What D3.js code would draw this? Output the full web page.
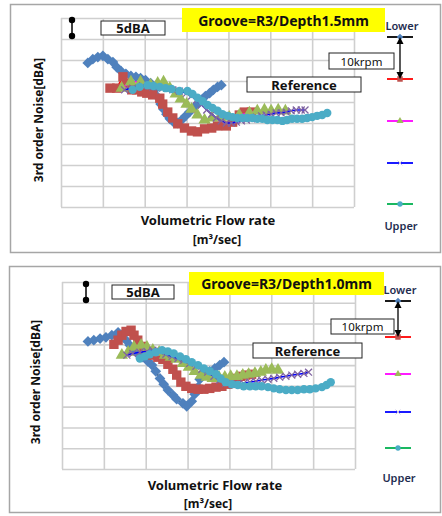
<!DOCTYPE html>
<html>
<head>
    <meta charset="utf-8"/>
    <title>3rd order noise</title>
    <script src="https://d3js.org/d3.v7.min.js"></script>
    <style>
        body { margin: 0; background: #fff; }
        text { font-family: "Noto Sans", "DejaVu Sans", sans-serif; }
    </style>
</head>
<body>
<div id="chart"></div>
<script>
// gridlines of the plot area (no tick labels are printed)
var flowGrid = [0, 1, 2, 3, 4, 5, 6, 7];
var noiseGrid = [0, 5, 10, 15, 20, 25, 30, 35, 40, 45];

// legend rows, top to bottom
var seriesNames = ["Lower", "2", "3", "4", "Upper"];

// ---- Groove=R3 / Depth 1.5mm : [flow, noise dBA] ----
var d15_lower = [[0.64,34.3],[0.76,35.2],[0.88,35.7],[1.0,36.0],[1.12,35.2],[1.24,34.5],[1.33,33.3],[1.43,32.4],[1.55,31.7],[1.67,31.2],[1.79,31.0],[1.90,30.7],[2.02,30.2],[2.14,29.5],[2.24,27.9],[2.31,26.2],[2.38,24.5],[2.45,23.3],[2.52,22.1],[2.60,21.0],[2.69,20.2],[2.79,20.0],[2.88,20.7],[2.98,21.7],[3.07,22.6],[3.17,23.6],[3.26,24.5],[3.36,25.5],[3.45,26.4],[3.55,27.1],[3.64,27.9],[3.74,28.6],[3.83,29.0]];
var d15_s2 = [[1.17,28.3],[1.33,28.3],[1.48,31.0],[1.57,29.5],[1.69,27.9],[1.81,27.9],[1.93,27.4],[2.05,27.1],[2.19,26.7],[2.36,25.9],[2.43,24.5],[2.55,22.6],[2.67,21.2],[2.79,19.8],[2.95,18.8],[3.12,18.1],[3.26,17.9],[3.43,18.6],[3.60,18.8],[3.74,19.3],[3.95,19.3],[4.10,20.2],[4.26,21.9],[4.38,22.6],[4.55,22.6]];
var d15_s3 = [[1.45,28.3],[1.67,29.8],[1.90,29.8],[2.14,29.0],[2.31,29.5],[2.45,29.8],[2.60,28.3],[2.74,26.9],[2.86,25.7],[3.0,24.5],[3.12,23.3],[3.26,21.9],[3.43,20.7],[3.60,21.2],[3.79,21.4],[4.02,21.4],[4.26,21.9],[4.5,22.4],[4.69,22.9],[4.86,23.1],[5.02,22.9],[5.19,23.1],[5.36,22.9]];
var d15_s4 = [[1.52,27.9],[1.71,28.3],[1.95,28.8],[2.19,28.6],[2.43,28.3],[2.67,27.9],[2.83,27.6],[3.0,27.1],[3.12,26.4],[3.24,25.5],[3.36,24.3],[3.48,23.1],[3.60,22.1],[3.71,21.2],[3.83,20.5],[3.95,20.0],[4.07,20.0],[4.19,20.2],[4.31,20.5],[4.43,20.7],[4.55,21.0],[4.67,21.4],[4.79,21.7],[4.90,21.9],[5.02,22.1],[5.14,22.4],[5.26,22.4],[5.38,22.6],[5.50,22.9],[5.62,23.1],[5.74,23.1],[5.83,23.1]];
var d15_upper = [[1.71,27.9],[1.88,28.6],[2.07,29.0],[2.21,28.8],[2.36,28.6],[2.50,28.3],[2.64,28.1],[2.83,27.6],[3.02,27.6],[3.14,26.9],[3.26,26.0],[3.38,25.2],[3.5,24.3],[3.62,23.6],[3.74,22.9],[3.86,22.1],[3.98,21.7],[4.10,21.4],[4.21,21.2],[4.33,21.2],[4.45,21.2],[4.57,21.2],[4.69,21.0],[4.81,21.0],[4.93,20.7],[5.05,20.7],[5.17,20.7],[5.29,20.5],[5.40,20.7],[5.52,21.0],[5.64,21.0],[5.76,21.0],[5.88,21.2],[6.0,21.4],[6.12,21.7],[6.24,21.9],[6.36,22.4]];

// ---- Groove=R3 / Depth 1.0mm : [flow, noise dBA] ----
var d10_lower = [[0.62,30.7],[0.76,31.0],[0.91,31.4],[1.05,31.7],[1.19,32.2],[1.34,32.9],[1.43,32.2],[1.53,31.0],[1.62,29.8],[1.72,28.6],[1.81,27.8],[1.93,26.9],[2.05,25.9],[2.15,25.0],[2.24,23.5],[2.34,21.8],[2.43,20.4],[2.53,19.0],[2.65,17.8],[2.74,16.8],[2.89,15.8],[2.98,15.1],[3.10,16.3],[3.17,18.0],[3.25,19.7],[3.29,21.6],[3.41,22.8],[3.53,23.5],[3.65,24.2],[3.77,25.0],[3.87,25.7]];
var d10_s2 = [[1.24,30.0],[1.34,31.0],[1.43,32.2],[1.53,33.1],[1.65,33.4],[1.72,32.2],[1.81,31.0],[1.91,29.5],[2.03,28.3],[2.17,27.4],[2.29,26.9],[2.41,26.4],[2.53,25.2],[2.65,24.0],[2.74,22.6],[2.84,20.9],[2.96,19.9],[3.10,19.4],[3.25,19.2],[3.39,19.2],[3.53,19.4],[3.68,19.7],[3.82,19.9],[3.96,20.4],[4.10,21.8],[4.27,22.3],[4.39,22.6],[4.53,22.8]];
var d10_s3 = [[1.43,27.4],[1.58,28.1],[1.72,29.3],[1.89,29.8],[2.03,29.3],[2.17,28.6],[2.32,28.1],[2.46,27.4],[2.60,26.9],[2.74,26.4],[2.89,25.4],[3.03,24.5],[3.17,23.5],[3.32,22.6],[3.46,22.1],[3.60,21.8],[3.75,22.1],[3.89,22.1],[4.03,22.3],[4.18,22.3],[4.32,22.6],[4.46,22.8],[4.61,23.0],[4.75,23.3],[4.87,23.8],[5.01,24.0],[5.16,23.8]];
var d10_s4 = [[1.55,27.4],[1.69,27.8],[1.86,28.1],[2.03,28.3],[2.17,28.6],[2.34,28.3],[2.48,27.6],[2.63,27.1],[2.77,26.6],[2.91,26.2],[3.05,25.4],[3.20,24.7],[3.34,24.0],[3.48,23.3],[3.63,22.3],[3.77,21.4],[3.91,20.6],[4.06,20.4],[4.20,20.4],[4.34,20.6],[4.49,20.9],[4.63,21.1],[4.77,21.4],[4.92,21.6],[5.06,21.8],[5.20,22.1],[5.35,22.3],[5.49,22.6],[5.63,22.8],[5.78,23.0],[5.89,23.3]];
var d10_upper = [[1.86,26.6],[1.98,27.1],[2.10,27.6],[2.24,28.1],[2.39,28.6],[2.53,28.3],[2.67,27.8],[2.82,27.1],[2.96,26.4],[3.10,25.7],[3.25,25.0],[3.39,24.2],[3.53,23.5],[3.68,22.8],[3.79,21.8],[3.91,20.9],[4.06,20.4],[4.20,20.2],[4.34,19.9],[4.49,19.9],[4.63,19.9],[4.77,19.9],[4.92,19.7],[5.06,19.4],[5.20,19.2],[5.35,19.0],[5.49,19.0],[5.63,19.0],[5.78,19.2],[5.92,19.2],[6.06,19.4],[6.21,19.7],[6.32,20.2],[6.42,20.9]];

// marker / line styles for the five series
var lineColors = ["#000000", "#ff0000", "#ff00ff", "#0000ff", "#00b050"];
var markerColors = ["#4f81bd", "#c0504d", "#9bbb59", "#8064a2", "#4bacc6"];

var xMark = {
    draw: function(ctx, size) {
        var r = Math.sqrt(size) / 2;
        ctx.moveTo(-r, -r); ctx.lineTo(r, r);
        ctx.moveTo(r, -r); ctx.lineTo(-r, r);
    }
};
var markerTypes = [d3.symbolSquare, d3.symbolSquare, d3.symbolTriangle, xMark, d3.symbolCircle];
var markerSizes = [58, 88, 66, 48, 56];
var markerRotate = [45, 0, 0, 0, 0];

var svg = d3.select("#chart")
    .append("svg")
    .attr("width", 442)
    .attr("height", 516);

svg.append("rect").attr("width", 442).attr("height", 516).attr("fill", "#fff");

function box(g, x, y, w, h, fill, label, size, weight) {
    g.append("rect")
        .attr("x", x).attr("y", y).attr("width", w).attr("height", h)
        .attr("fill", fill)
        .attr("stroke", fill == "#ffff00" ? "none" : "#222")
        .attr("stroke-width", 1);
    g.append("text")
        .attr("x", x + w / 2).attr("y", y + h / 2)
        .attr("text-anchor", "middle")
        .attr("dominant-baseline", "central")
        .attr("font-size", size)
        .attr("font-weight", weight)
        .attr("fill", "#111")
        .text(label);
}

function drawPanel(p) {
    var g = svg.append("g");

    // outer frame
    g.append("rect")
        .attr("x", p.frame[0] + 0.5).attr("y", p.frame[1] + 0.5)
        .attr("width", p.frame[2]).attr("height", p.frame[3])
        .attr("fill", "none").attr("stroke", "#a6a6a6").attr("stroke-width", 1.5);

    var x = d3.scaleLinear().domain([0, 7]).range([p.left, p.right]);
    var y = d3.scaleLinear().domain([0, 45]).range([p.bottom, p.top]);

    // grid
    g.append("g")
        .attr("transform", "translate(0," + p.bottom + ")")
        .call(d3.axisBottom(x).tickValues(flowGrid).tickFormat("").tickSize(p.top - p.bottom))
        .call(function(a) {
            a.select(".domain").remove();
            a.selectAll("line").attr("stroke", "#cfcfcf").attr("stroke-width", 1.6);
        });
    g.append("g")
        .attr("transform", "translate(" + p.left + ",0)")
        .call(d3.axisLeft(y).tickValues(noiseGrid).tickFormat("").tickSize(p.left - p.right))
        .call(function(a) {
            a.select(".domain").remove();
            a.selectAll("line").attr("stroke", "#cfcfcf").attr("stroke-width", 1.6);
        });

    // series
    var line = d3.line().x(function(d) { return x(d[0]); }).y(function(d) { return y(d[1]); });
    p.series.forEach(function(s, i) {
        g.append("path")
            .datum(s)
            .attr("fill", "none")
            .attr("stroke", lineColors[i])
            .attr("stroke-width", i == 0 ? 1.3 : 1.6)
            .attr("d", line);
        var sym = d3.symbol().type(markerTypes[i]).size(markerSizes[i]);
        g.selectAll(".m" + i)
            .data(s)
            .enter()
            .append("path")
            .attr("class", "m" + i)
            .attr("transform", function(d) {
                return "translate(" + x(d[0]) + "," + y(d[1]) + ") rotate(" + markerRotate[i] + ")";
            })
            .attr("d", sym)
            .attr("fill", i == 3 ? "none" : markerColors[i])
            .attr("stroke", i == 3 ? markerColors[i] : "none")
            .attr("stroke-width", 1.3);
    });

    // axis titles
    g.append("text")
        .attr("transform", "translate(" + p.yTitle[0] + "," + p.yTitle[1] + ") rotate(-90)")
        .attr("text-anchor", "middle")
        .attr("dominant-baseline", "central")
        .attr("font-size", 12).attr("font-weight", "bold").attr("fill", "#111")
        .text("3rd order Noise[dBA]");
    g.append("text")
        .attr("x", p.xTitle[0]).attr("y", p.xTitle[1])
        .attr("text-anchor", "middle")
        .attr("dominant-baseline", "central")
        .attr("font-size", 13).attr("font-weight", "bold").attr("fill", "#111")
        .text("Volumetric Flow rate");
    g.append("text")
        .attr("x", p.unit[0]).attr("y", p.unit[1])
        .attr("text-anchor", "middle")
        .attr("dominant-baseline", "central")
        .attr("font-size", 12).attr("font-weight", "bold").attr("fill", "#111")
        .text("[m³/sec]");

    // 5dBA dumbbell
    g.append("line")
        .attr("x1", p.bell[0]).attr("x2", p.bell[0])
        .attr("y1", p.bell[1]).attr("y2", p.bell[2])
        .attr("stroke", "#000").attr("stroke-width", 1.5);
    [p.bell[1], p.bell[2]].forEach(function(cy) {
        g.append("circle").attr("cx", p.bell[0]).attr("cy", cy).attr("r", 3.2).attr("fill", "#000");
    });

    box(g, p.dba[0], p.dba[1], p.dba[2], p.dba[3], "#fff", "5dBA", 13, "bold");
    box(g, p.title[0], p.title[1], p.title[2], p.title[3], "#ffff00", p.label, 14, "bold");
    box(g, p.krpm[0], p.krpm[1], p.krpm[2], p.krpm[3], "#fff", "10krpm", 11.5, "normal");
    box(g, p.ref[0], p.ref[1], p.ref[2], p.ref[3], "#fff", "Reference", 13, "bold");

    // legend column
    var lx = p.legend[0];
    p.legend[1].forEach(function(ly, i) {
        g.append("line")
            .attr("x1", lx - 13).attr("x2", lx + 13)
            .attr("y1", ly).attr("y2", ly)
            .attr("stroke", lineColors[i]).attr("stroke-width", 1.8);
        var sym = d3.symbol().type(markerTypes[i]).size(i == 1 ? 30 : 22);
        g.append("path")
            .attr("transform", "translate(" + lx + "," + ly + ") rotate(" + markerRotate[i] + ")")
            .attr("d", sym)
            .attr("fill", i == 3 ? "none" : markerColors[i])
            .attr("stroke", i == 3 ? "#c9bfe0" : "none");
    });
    var rows = p.legend[1];
    g.append("text")
        .attr("x", lx + 2).attr("y", rows[0] - 7)
        .attr("text-anchor", "middle").attr("font-size", 11).attr("font-weight", 600)
        .attr("fill", "#1f2d50").text(seriesNames[0]);
    g.append("text")
        .attr("x", lx + 1).attr("y", p.upperY)
        .attr("text-anchor", "middle").attr("dominant-baseline", "central")
        .attr("font-size", 11).attr("font-weight", 600)
        .attr("fill", "#1f2d50").text(seriesNames[4]);

    // 10krpm double arrow
    g.append("line")
        .attr("x1", lx).attr("x2", lx)
        .attr("y1", rows[0] + 5).attr("y2", rows[1] - 5)
        .attr("stroke", "#000").attr("stroke-width", 1.3);
    g.append("path")
        .attr("d", "M" + lx + "," + rows[0] + "l-3.5,7h7z")
        .attr("fill", "#000");
    g.append("path")
        .attr("d", "M" + lx + "," + rows[1] + "l-3.5,-7h7z")
        .attr("fill", "#000");
}

drawPanel({
    frame: [10, 4, 430, 248],
    left: 61, right: 354, top: 18, bottom: 207,
    series: [d15_lower, d15_s2, d15_s3, d15_s4, d15_upper],
    label: "Groove=R3/Depth1.5mm",
    title: [182, 8, 203, 24],
    dba: [101, 21, 64, 14],
    krpm: [329, 53, 65, 16],
    ref: [247, 77, 114, 15],
    bell: [72, 20, 36],
    legend: [400, [37, 79, 121, 163, 204]],
    upperY: 225,
    yTitle: [38, 120],
    xTitle: [208, 220],
    unit: [217, 239]
});

drawPanel({
    frame: [9, 266, 431, 246],
    left: 62, right: 355, top: 282, bottom: 469,
    series: [d10_lower, d10_s2, d10_s3, d10_s4, d10_upper],
    label: "Groove=R3/Depth1.0mm",
    title: [189, 272, 195, 23],
    dba: [112, 285, 62, 14],
    krpm: [331, 319, 63, 15],
    ref: [253, 343, 109, 15],
    bell: [86, 284, 300],
    legend: [398, [301, 337, 374, 412, 448]],
    upperY: 477,
    yTitle: [35, 382],
    xTitle: [215, 485],
    unit: [208, 503]
});
</script>
</body>
</html>
